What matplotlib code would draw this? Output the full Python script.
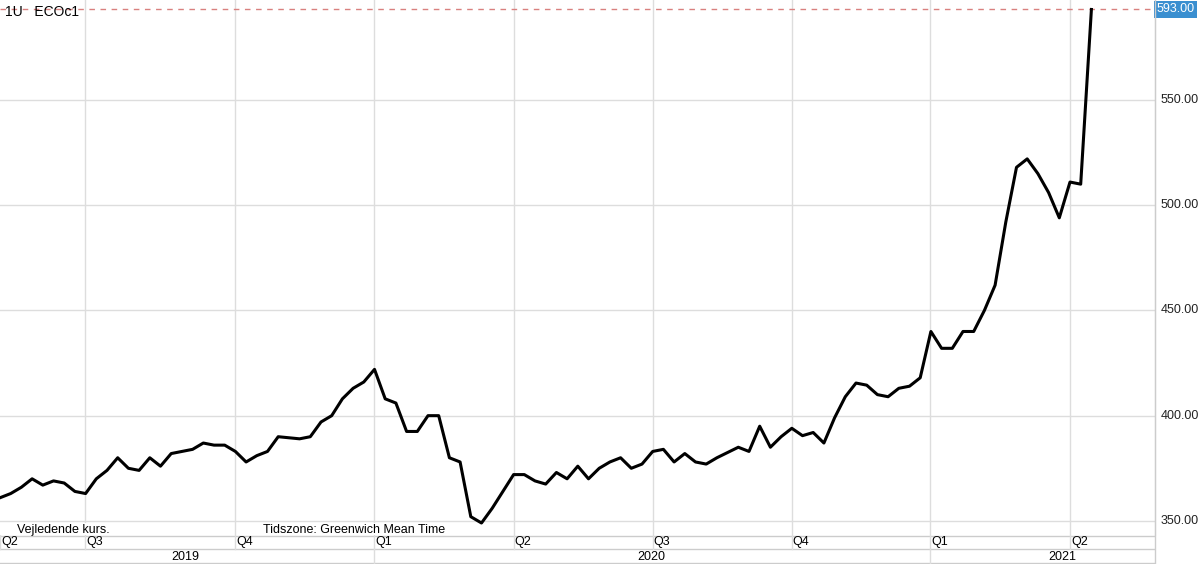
import matplotlib
matplotlib.use("Agg")
import matplotlib.pyplot as plt
from matplotlib.lines import Line2D

values = [361, 363, 366, 370, 367, 369, 368, 364, 363,
          370, 374, 380, 375, 374, 380, 376, 382, 383, 384, 387, 386, 386, 383,
          378, 381, 383, 390, 389.5, 389, 390, 397, 400, 408, 413, 416, 422,
          408, 406, 392.5, 392.5, 400, 400, 380, 378, 352, 349, 356, 364, 372,
          372, 369, 367.5, 373, 370, 376, 370, 375, 378, 380, 375, 377, 383,
          384, 378, 382, 378, 377, 380, 382.5, 385, 383, 395, 385, 390, 394,
          390.5, 392, 387, 399, 409, 415.5, 414.5, 410, 409, 413, 414, 418, 440,
          432, 432, 440, 440, 450, 462, 492, 518, 522, 515, 506, 494, 511,
          510, 593]
quarter_pos = [7.94, 21.96, 34.95, 48.0, 61.0, 74.0, 86.9, 100.0]
quarter_labels = ["Q3", "Q4", "Q1", "Q2", "Q3", "Q4", "Q1", "Q2"]
year_labels = ["2019", "2020", "2021"]
year_pos = [17.3, 60.9, 99.3]
year_bounds = [34.95, 86.9]
yticks = [350, 400, 450, 500, 550]
last = 593.0

W, H = 1200, 564
PX = 10.7
fig = plt.figure(figsize=(12, 5.64), dpi=100)
ax = fig.add_axes([0, 1 - 535 / H, 1155 / W, 535 / H])
ax.set_xlim(0, 1155 / PX)
ax.set_ylim(343.3, 597.5)
gc = "#dddddd"
for q in quarter_pos:
    ax.axvline(q, color=gc, lw=1, zorder=0)
for t in yticks:
    ax.axhline(t, color=gc, lw=1, zorder=0)
ax.plot(range(len(values)), values, color="black", lw=2.2, zorder=3)
ax.axhline(last, color="#d9807f", lw=1, ls=(0, (4, 4)), zorder=2)
for s in ax.spines.values():
    s.set_visible(False)
ax.spines["right"].set_visible(True)
ax.spines["right"].set_color("#cccccc")
ax.set_xticks([]); ax.set_yticks([])
for t in yticks:
    ax.text(1.005, t, f"{t:.2f}", transform=ax.get_yaxis_transform(), fontsize=9,
            va="center", ha="left", color="#222222", family="Liberation Sans")
ax.text(1.001, last, f"{last:.2f}", transform=ax.get_yaxis_transform(), fontsize=9,
        va="center", ha="left", color="white", family="Liberation Sans",
        bbox=dict(boxstyle="square,pad=0.2", fc="#3a8fd0", ec="none"))
ax.text(0.004, 0.978, "1U   ECOc1", transform=ax.transAxes, fontsize=10, va="center",
        family="Liberation Sans")
ax.text(17 / 1155, 5 / 535, "Vejledende kurs.", transform=ax.transAxes, fontsize=9,
        family="Liberation Sans", va="center",
        bbox=dict(fc="white", ec="none", pad=1))
ax.text(263 / 1155, 5 / 535, "Tidszone: Greenwich Mean Time", transform=ax.transAxes,
        fontsize=9, family="Liberation Sans", va="center",
        bbox=dict(fc="white", ec="none", pad=1))

# bottom band
bx = fig.add_axes([0, 0, 1155 / W, 29 / H])
bx.set_xlim(ax.get_xlim()); bx.set_ylim(0, 29)
bx.axis("off")
for y in [28.5, 15, 1]:
    bx.axhline(y, color="#cccccc", lw=1)
for q, l in zip([0.0] + quarter_pos, ["Q2"] + quarter_labels):
    bx.plot([q, q], [15, 29], color=gc, lw=1)
    bx.text(q + 0.1, 22, l, fontsize=9, va="center", ha="left", family="Liberation Sans")
for b in year_bounds:
    bx.plot([b, b], [0, 15], color=gc, lw=1)
for p, l in zip(year_pos, year_labels):
    bx.text(p, 7.5, l, fontsize=9, va="center", ha="center", family="Liberation Sans")
fig.add_artist(Line2D([1155 / W, 1155 / W], [0, 1], color="#cccccc", lw=1))
fig.savefig("out.png", dpi=100, facecolor="white")
